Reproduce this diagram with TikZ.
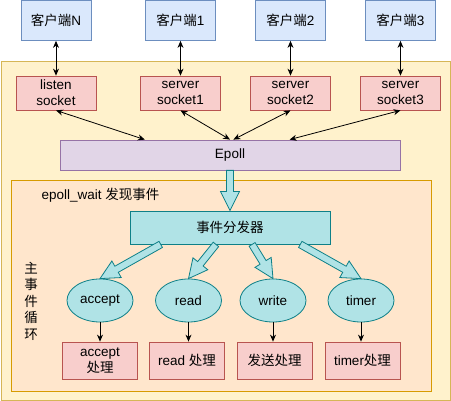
\documentclass[tikz,border=0pt]{standalone}
\usepackage{fontspec}
\setmainfont{Liberation Sans}
\newfontfamily\cjk{Noto Sans CJK SC}
\usepackage{xcolor}
\usetikzlibrary{positioning, arrows.meta, shapes.geometric, calc}

\definecolor{clientfill}{HTML}{DAE8FC}
\definecolor{clientline}{HTML}{6C8EBF}
\definecolor{sockfill}{HTML}{F8CECC}
\definecolor{sockline}{HTML}{B85450}
\definecolor{epollfill}{HTML}{E1D5E7}
\definecolor{epollline}{HTML}{9673A6}
\definecolor{loopfill}{HTML}{FFF2CC}
\definecolor{loopline}{HTML}{D6B656}
\definecolor{waitfill}{HTML}{FFE6CC}
\definecolor{waitline}{HTML}{D79B00}
\definecolor{dispfill}{HTML}{B0E3E6}
\definecolor{displine}{HTML}{0E8088}

\newcommand{\fatarrow}[2]{%
  \coordinate (fa-s) at #1;
  \coordinate (fa-e) at #2;
  \coordinate (fa-h) at ($(fa-e)!19pt!(fa-s)$);
  \draw[fatarr] ($(fa-s)!3.5pt!90:(fa-e)$) -- ($(fa-h)!3.5pt!90:(fa-e)$) -- ($(fa-h)!9.5pt!90:(fa-e)$) -- (fa-e)
    -- ($(fa-h)!9.5pt!-90:(fa-e)$) -- ($(fa-h)!3.5pt!-90:(fa-e)$) -- ($(fa-s)!3.5pt!-90:(fa-e)$) -- cycle;
}

\begin{document}
\begin{tikzpicture}[
    x=1pt, y=-1pt,
    font=\fontsize{13.5}{16}\selectfont,
    box/.style={rectangle, draw=#1, line width=0.8pt, align=center, inner sep=1pt},
    clientbox/.style={box=clientline, fill=clientfill, minimum width=70pt, minimum height=40pt},
    sockbox/.style={box=sockline, fill=sockfill, minimum width=80pt, minimum height=34pt},
    handlebox/.style={box=sockline, fill=sockfill, minimum width=75pt, minimum height=37pt},
    panel/.style={rectangle, draw=#1, line width=0.8pt},
    evtnode/.style={ellipse, draw=displine, fill=dispfill, line width=0.8pt, minimum width=66pt, minimum height=43pt, inner sep=0pt},
    arr/.style={-{Stealth[length=7pt, width=6pt]}, line width=0.8pt},
    biarr/.style={{Stealth[length=7pt, width=6pt]}-{Stealth[length=7pt, width=6pt]}, line width=0.8pt},
    fatarr/.style={draw=displine, fill=dispfill, line width=0.8pt, line join=miter},
]
\useasboundingbox (0,0) rectangle (451,401);

\node[panel=loopline, fill=loopfill, minimum width=449pt, minimum height=339pt] (loop) at (225.5,230.5) {};

\node[clientbox] (cN) at (56,20.5) {{\cjk 客户端}N};
\node[clientbox] (c1) at (180.5,20.5) {{\cjk 客户端}1};
\node[clientbox] (c2) at (290.5,20.5) {{\cjk 客户端}2};
\node[clientbox] (c3) at (400.5,20.5) {{\cjk 客户端}3};

\node[sockbox] (listen) at (56,93) {listen\\socket};
\node[sockbox] (s1) at (180.5,93) {server\\socket1};
\node[sockbox] (s2) at (290.5,93) {server\\socket2};
\node[sockbox] (s3) at (400.5,93) {server\\socket3};

\draw[biarr] (cN) -- (listen);
\draw[biarr] (c1) -- (s1);
\draw[biarr] (c2) -- (s2);
\draw[biarr] (c3) -- (s3);

\node[box=epollline, fill=epollfill, minimum width=340pt, minimum height=30pt] (epoll) at (230,155) {Epoll};

\draw[biarr] (listen.south) -- ($(epoll.north west)!0.25!(epoll.north east)$);
\draw[biarr] (s1.south) -- ($(epoll.north west)!0.5!(epoll.north east)$);
\draw[biarr] (s2.south) -- ($(epoll.north west)!0.51!(epoll.north east)$);
\draw[biarr] (s3.south) -- ($(epoll.north west)!0.675!(epoll.north east)$);

\node[panel=waitline, fill=waitfill, minimum width=420pt, minimum height=211pt] (wait) at (221,285.5) {};
\node[anchor=west] (waitlbl) at (38,195) {epoll\_wait {\cjk 发现事件}};

\node[box=displine, fill=dispfill, minimum width=200pt, minimum height=33pt] (disp) at (230,227.5) {\cjk 事件分发器};

\fatarrow{(epoll.south)}{(disp.north)}

\node[align=center, font=\fontsize{13.5}{16.5}\selectfont\cjk] (mainloop) at (31,301) {主\\事\\件\\循\\环};

\node[evtnode] (acc) at (100,300.5) {accept};
\node[evtnode] (rd) at (188.5,300.5) {read};
\node[evtnode] (wr) at (273,300.5) {write};
\node[evtnode] (tm) at (361,300.5) {timer};

\fatarrow{($(disp.south west)!0.155!(disp.south east)$)}{(acc.north)}
\fatarrow{($(disp.south west)!0.43!(disp.south east)$)}{(rd.north)}
\fatarrow{($(disp.south west)!0.61!(disp.south east)$)}{(wr.north)}
\fatarrow{($(disp.south west)!0.85!(disp.south east)$)}{(tm.north)}

\node[handlebox] (acchd) at (100,360.5) {accept\\{\cjk 处理}};
\node[handlebox] (rdhd) at (187,360.5) {read {\cjk 处理}};
\node[handlebox] (wrhd) at (274.5,360.5) {\cjk 发送处理};
\node[handlebox] (tmhd) at (362.5,360.5) {timer{\cjk 处理}};

\draw[arr] (acc.south) -- (acc.south |- acchd.north);
\draw[arr] (rd.south) -- (rd.south |- rdhd.north);
\draw[arr] (wr.south) -- (wr.south |- wrhd.north);
\draw[arr] (tm.south) -- (tm.south |- tmhd.north);

\end{tikzpicture}
\end{document}
